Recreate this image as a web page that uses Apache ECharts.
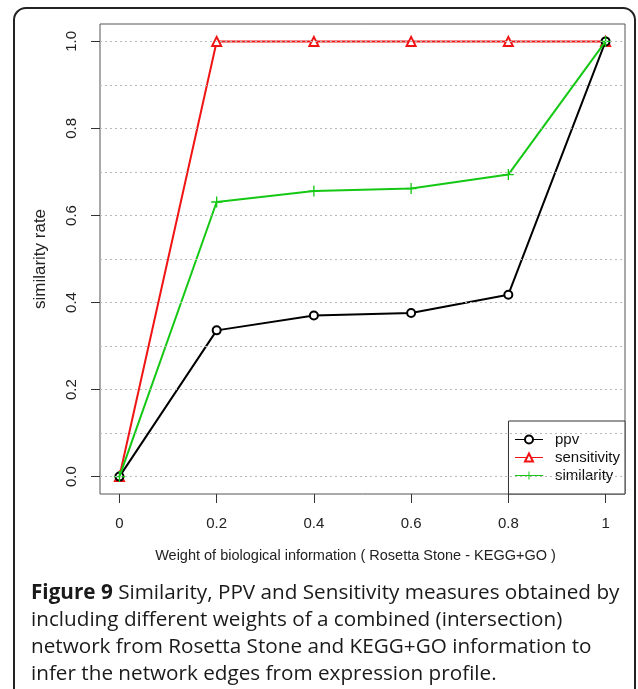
<!DOCTYPE html>
<html>
<head>
<meta charset="utf-8">
<script src="https://cdn.jsdelivr.net/npm/echarts@6/dist/echarts.min.js"></script>
<style>
html,body{margin:0;padding:0;background:#fff;}
#chart{width:638px;height:689px;}
</style>
</head>
<body>
<div id="chart"></div>
<script>
// ---- data ----
var weights = [0, 0.2, 0.4, 0.6, 0.8, 1];
var ppv = [0, 0.336, 0.370, 0.376, 0.418, 1.0];
var sensitivity = [0, 1.0, 1.0, 1.0, 1.0, 1.0];
var similarity = [0, 0.631, 0.656, 0.662, 0.694, 1.0];
var xTicks = [0, 0.2, 0.4, 0.6, 0.8, 1];
var xTickLabels = ['0', '0.2', '0.4', '0.6', '0.8', '1'];
var yTicks = [0, 0.2, 0.4, 0.6, 0.8, 1.0];
var yTickLabels = ['0.0', '0.2', '0.4', '0.6', '0.8', '1.0'];
var gridValues = [0, 0.1, 0.2, 0.3, 0.4, 0.5, 0.6, 0.7, 0.8, 0.9, 1.0];

function pairs(ys) { return weights.map(function (w, i) { return [w, ys[i]]; }); }
function labelFor(ticks, labels) {
  return function (v) {
    for (var i = 0; i < ticks.length; i++) { if (Math.abs(ticks[i] - v) < 1e-9) return labels[i]; }
    return '';
  };
}

var FONT = 'Liberation Sans';
var plusPath = 'path://M4.4,0H5.6V4.4H10V5.6H5.6V10H4.4V5.6H0V4.4H4.4Z';

var chart = echarts.init(document.getElementById('chart'), null, {renderer: 'canvas'});
chart.setOption({
  animation: false,
  backgroundColor: '#fff',
  textStyle: {fontFamily: FONT},
  title: {
    left: 31, top: 580, padding: 0,
    text: '{b|Figure 9} Similarity, PPV and Sensitivity measures obtained by\nincluding different weights of a combined (intersection)\nnetwork from Rosetta Stone and KEGG+GO information to\ninfer the network edges from expression profile.',
    textStyle: {
      fontFamily: 'Open Sans', fontSize: 20.7, fontWeight: 'normal', color: '#1a1a1a', lineHeight: 27,
      rich: {b: {fontFamily: 'Open Sans', fontSize: 20.7, fontWeight: 'bold', color: '#1a1a1a', lineHeight: 27}}
    }
  },
  graphic: [{
    type: 'rect', silent: true,
    shape: {x: 14, y: 8, width: 621, height: 720, r: 12},
    style: {fill: 'none', stroke: '#222', lineWidth: 2}
  }],
  legend: {
    right: 13, bottom: 195,
    orient: 'vertical',
    itemWidth: 28, itemHeight: 10, itemGap: 3,
    padding: [11, 5, 11, 6],
    borderColor: '#333', borderWidth: 1, borderRadius: 0,
    backgroundColor: '#fff',
    lineStyle: {width: 1},
    textStyle: {fontFamily: FONT, fontSize: 15, color: '#111', padding: [0, 0, 0, 7]},
    data: ['ppv', 'sensitivity', 'similarity']
  },
  grid: {
    left: 100, top: 24, right: 13, bottom: 195,
    show: true, borderColor: '#555', borderWidth: 1, backgroundColor: 'transparent'
  },
  xAxis: {
    type: 'value', min: -0.04, max: 1.04,
    name: 'Weight of biological information ( Rosetta Stone - KEGG+GO )',
    nameLocation: 'middle', nameGap: 54,
    nameTextStyle: {fontFamily: FONT, fontSize: 14.5, color: '#222', padding: [0, 14, 0, 0]},
    axisLine: {show: false, onZero: false},
    splitLine: {show: false},
    axisTick: {show: true, customValues: xTicks, length: 9, lineStyle: {color: '#333', width: 1}},
    axisLabel: {customValues: xTicks, formatter: labelFor(xTicks, xTickLabels), margin: 22, fontFamily: FONT, fontSize: 15, color: '#222'}
  },
  yAxis: {
    type: 'value', min: -0.04, max: 1.04,
    name: 'similarity rate',
    nameLocation: 'middle', nameGap: 51,
    nameTextStyle: {fontFamily: FONT, fontSize: 17, color: '#222'},
    axisLine: {show: false, onZero: false},
    splitLine: {show: false},
    axisTick: {show: true, customValues: yTicks, length: 9, lineStyle: {color: '#333', width: 1}},
    axisLabel: {customValues: yTicks, formatter: labelFor(yTicks, yTickLabels), rotate: 90, margin: 21, fontFamily: FONT, fontSize: 15, color: '#222'}
  },
  series: [
    {
      name: 'ppv', type: 'line', data: pairs(ppv),
      symbol: 'emptyCircle', symbolSize: 8,
      lineStyle: {color: '#000', width: 2},
      itemStyle: {color: '#000', borderWidth: 1.2}, z: 3
    },
    {
      name: 'sensitivity', type: 'line', data: pairs(sensitivity),
      symbol: 'emptyTriangle', symbolSize: 9,
      lineStyle: {color: '#f01515', width: 2},
      itemStyle: {color: '#f01515', borderWidth: 1.2}, z: 2
    },
    {
      name: 'similarity', type: 'line', data: pairs(similarity),
      symbol: plusPath, symbolSize: 11,
      lineStyle: {color: '#14c814', width: 2},
      itemStyle: {color: '#14c814'}, z: 4
    },
    {
      name: 'grid', type: 'line', data: [], z: 5, silent: true,
      markLine: {
        silent: true, symbol: 'none', animation: false,
        label: {show: false},
        lineStyle: {color: '#b8b8b8', type: [2, 3], width: 1.2},
        data: gridValues.map(function (v) { return {yAxis: v}; })
      }
    }
  ]
});
</script>
</body>
</html>
